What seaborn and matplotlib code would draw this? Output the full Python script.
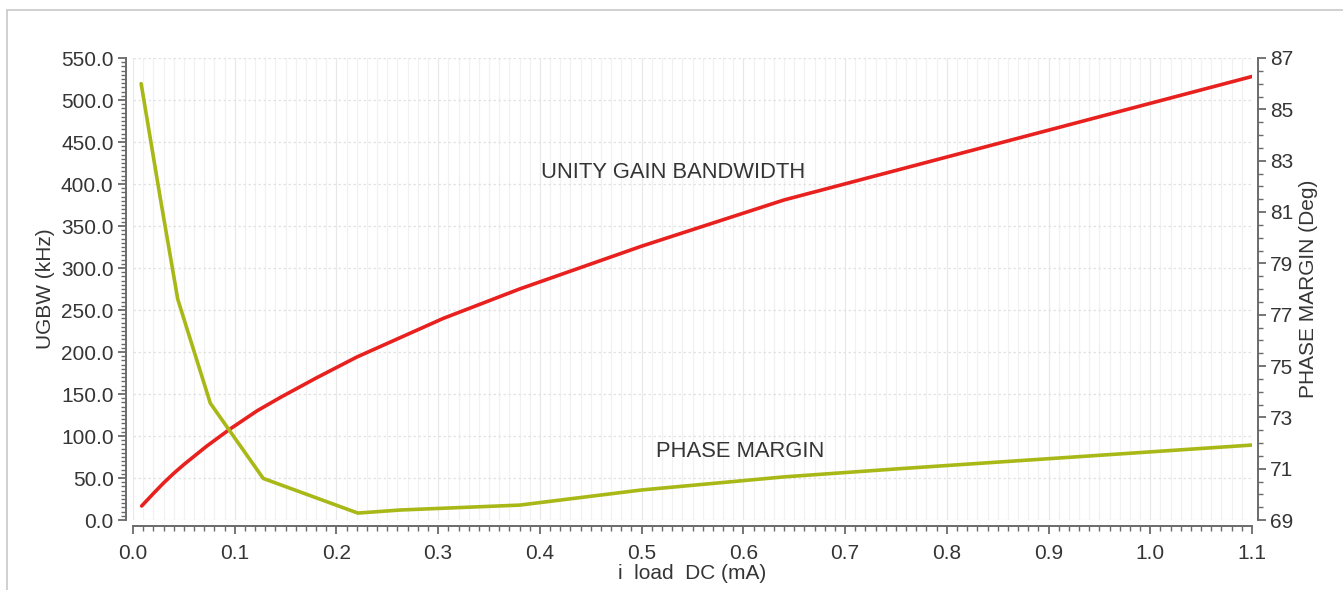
import matplotlib
matplotlib.use("Agg")
import matplotlib.pyplot as plt
from matplotlib.lines import Line2D
from matplotlib.ticker import MultipleLocator, FixedLocator, FormatStrFormatter
import seaborn as sns
import pandas as pd

# Unity gain bandwidth vs DC load current
ugbw_i_ma = [0.0085, 0.02, 0.03, 0.04, 0.05, 0.072, 0.095, 0.122, 0.145, 0.18, 0.22,
             0.305, 0.38, 0.5, 0.64, 1.1]
ugbw_khz = [16.7, 31.5, 44, 55.5, 66, 87.5, 108, 130, 146, 169, 194,
            240, 275, 326, 381, 528]

# Phase margin vs DC load current
pm_i_ma = [0.008, 0.027, 0.044, 0.076, 0.128, 0.221, 0.263, 0.38, 0.5, 0.64, 0.754, 1.1]
pm_deg = [86.0, 81.5, 77.6, 73.55, 70.62, 69.27, 69.39, 69.58, 70.17, 70.68, 71.0, 71.92]

# Right-axis tick values
pm_ticks = [69, 71, 73, 75, 77, 79, 81, 83, 85, 87]

ugbw_df = pd.DataFrame({"i": ugbw_i_ma, "ugbw": ugbw_khz})
pm_df = pd.DataFrame({"i": pm_i_ma, "pm": pm_deg})

sns.set_theme(style="white")
plt.rcParams["font.family"] = ["Liberation Sans", "DejaVu Sans"]

TXT = "#353535"
AXC = "#6a6a6a"
RED = "#e8211f"
OLIVE = "#a8b817"
FS = 15

fig = plt.figure(figsize=(13.43, 5.90), dpi=100)
ax = fig.add_axes([133 / 1343, 1 - 520 / 590, (1252 - 133) / 1343, (520 - 58) / 590])
ax2 = ax.twinx()

# Frame around the figure
fig.add_artist(Line2D([7 / 1343, 1.0], [1 - 10 / 590, 1 - 10 / 590],
                      transform=fig.transFigure, color="#c8c8c8", lw=1.2))
fig.add_artist(Line2D([7 / 1343, 7 / 1343], [0.0, 1 - 10 / 590],
                      transform=fig.transFigure, color="#c8c8c8", lw=1.2))

sns.lineplot(data=ugbw_df, x="i", y="ugbw", ax=ax, color=RED, lw=2.6, zorder=5)
sns.lineplot(data=pm_df, x="i", y="pm", ax=ax2, color=OLIVE, lw=2.6, zorder=5)

ax.set_xlim(0.0, 1.1)
ax.set_ylim(0.0, 550.0)
ax2.set_ylim(69, 87)

ax.xaxis.set_major_locator(MultipleLocator(0.1))
ax.xaxis.set_minor_locator(MultipleLocator(0.01))
ax.xaxis.set_major_formatter(FormatStrFormatter("%.1f"))
ax.yaxis.set_major_locator(MultipleLocator(50))
ax.yaxis.set_minor_locator(MultipleLocator(5))
ax.yaxis.set_major_formatter(FormatStrFormatter("%.1f"))
ax2.yaxis.set_major_locator(FixedLocator(pm_ticks))
ax2.yaxis.set_minor_locator(MultipleLocator(0.5))
ax2.yaxis.set_major_formatter(FormatStrFormatter("%d"))

# Grid: fine vertical lines, horizontal lines at major kHz steps
ax.grid(False)
ax2.grid(False)
ax.xaxis.grid(True, which="minor", color="#f1f1f1", lw=0.9)
ax.xaxis.grid(True, which="major", color="#e8e8e8", lw=0.9)
ax.yaxis.grid(True, which="major", color="#e2e2e2", lw=0.9, ls=(0, (2, 2)))
ax.set_axisbelow(True)

for a in (ax, ax2):
    for s in a.spines.values():
        s.set_color(AXC)
        s.set_linewidth(1.4)
    a.spines["top"].set_visible(False)
    a.tick_params(which="both", direction="out", colors=AXC, labelcolor=TXT,
                  labelsize=FS)
    a.tick_params(which="major", length=6, width=1.3)
    a.tick_params(which="minor", length=3.5, width=1.0)

ax.spines["right"].set_visible(False)
ax2.spines["left"].set_visible(False)
ax2.spines["bottom"].set_visible(False)
ax.spines["left"].set_position(("outward", 5))
ax.spines["bottom"].set_position(("outward", 4))
ax2.spines["right"].set_position(("outward", 4))

ax.tick_params(axis="x", which="both", bottom=True, pad=7)
ax.tick_params(axis="y", which="both", left=True, pad=3)
ax2.tick_params(axis="y", which="both", right=True, pad=3)

ax.set_xlabel("i  load  DC (mA)", fontsize=FS, color=TXT, labelpad=1)
ax.set_ylabel("UGBW (kHz)", fontsize=FS, color=TXT, labelpad=4)
ax2.set_ylabel("PHASE MARGIN (Deg)", fontsize=FS, color=TXT, labelpad=4)

ax.text(0.4826, 0.753, "UNITY GAIN BANDWIDTH", transform=ax.transAxes,
        ha="center", va="center", fontsize=15.8, color=TXT)
ax.text(0.5424, 0.149, "PHASE MARGIN", transform=ax.transAxes,
        ha="center", va="center", fontsize=15.8, color=TXT)

fig.savefig("out.png", dpi=100, facecolor="white")
